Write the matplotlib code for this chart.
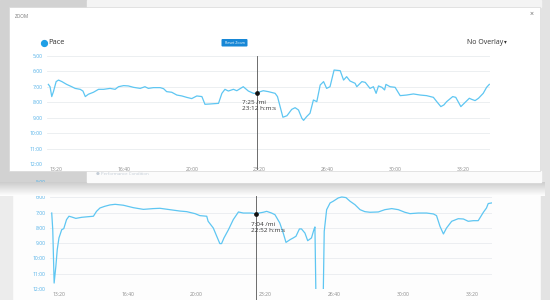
import numpy as np
import matplotlib
matplotlib.use("Agg")
import matplotlib.pyplot as plt
from matplotlib.patches import Rectangle, FancyBboxPatch
from matplotlib.ticker import FuncFormatter, MultipleLocator

plt.rcParams["font.family"] = ["Open Sans", "DejaVu Sans"]

# Zoomed pace chart (modal) -- elapsed seconds, pace in min/mi
zoom_time = [777, 782, 787, 792, 800, 807, 817, 831, 846, 856, 871, 879, 886, 895,
             910, 925, 940, 959, 974, 984, 999, 1013, 1028, 1048, 1062, 1072, 1087,
             1107, 1117, 1126, 1141, 1156, 1171, 1185, 1200, 1215, 1230, 1239, 1254,
             1279, 1289, 1298, 1308, 1323, 1333, 1352, 1367, 1382, 1392, 1397, 1411,
             1426, 1446, 1453, 1469, 1481, 1495, 1505, 1515, 1525, 1530, 1539, 1549,
             1559, 1569, 1579, 1589, 1598, 1608, 1620, 1638, 1648, 1657, 1667, 1682,
             1687, 1702, 1712, 1726, 1736, 1744, 1751, 1761, 1769, 1773, 1785, 1800,
             1815, 1834, 1854, 1874, 1893, 1913, 1923, 1935, 1944, 1952, 1970, 1979,
             1994, 2006, 2019, 2026, 2036, 2046, 2060, 2070, 2078]
zoom_pace = [6.84, 6.99, 7.63, 7.31, 6.66, 6.56, 6.66, 6.84, 6.99, 7.10, 7.16, 7.27,
             7.63, 7.48, 7.35, 7.16, 7.16, 7.10, 7.16, 6.99, 6.92, 6.94, 7.03, 7.10,
             6.99, 7.10, 7.05, 7.05, 7.12, 7.31, 7.35, 7.53, 7.59, 7.68, 7.76, 7.59,
             7.63, 8.13, 8.11, 8.07, 7.42, 7.16, 7.27, 7.16, 7.25, 6.99, 7.27, 7.42,
             7.42, 7.35, 7.25, 7.31, 7.42, 7.63, 8.97, 8.87, 8.46, 8.35, 8.50, 9.04,
             9.17, 8.93, 8.71, 7.85, 7.96, 6.88, 6.66, 7.10, 6.99, 5.91, 5.95, 6.56,
             6.34, 6.62, 6.77, 6.99, 6.66, 6.71, 7.10, 6.99, 7.42, 6.94, 7.03, 7.20,
             6.84, 6.99, 7.03, 7.57, 7.53, 7.46, 7.53, 7.57, 7.68, 7.96, 8.28, 8.17,
             7.96, 7.63, 7.68, 8.28, 8.02, 7.74, 7.81, 7.89, 7.74, 7.42, 7.03, 6.84]

# Full pace chart (background page)
full_time = [780, 783, 787, 792, 796, 801, 809, 815, 823, 830, 838, 850, 867, 886,
             901, 910, 920, 934, 949, 964, 988, 1017, 1046, 1075, 1094, 1123, 1152,
             1172, 1196, 1210, 1230, 1234, 1249, 1259, 1268, 1273, 1280, 1293, 1307,
             1322, 1336, 1360, 1372, 1394, 1404, 1418, 1428, 1442, 1452, 1460, 1472,
             1481, 1489, 1499, 1505, 1515, 1523, 1534, 1541, 1544, 1547, 1568, 1571,
             1578, 1588, 1597, 1612, 1622, 1634, 1646, 1660, 1675, 1689, 1704, 1728,
             1747, 1767, 1786, 1805, 1820, 1844, 1868, 1888, 1897, 1907, 1917, 1926,
             1941, 1960, 1975, 1989, 2004, 2018, 2033, 2042, 2047, 2057]
full_pace = [7.03, 8.12, 11.61, 10.52, 9.43, 8.66, 8.12, 8.05, 7.46, 7.24, 7.29, 7.38,
             7.31, 7.27, 7.24, 6.92, 6.70, 6.59, 6.50, 6.46, 6.52, 6.68, 6.79, 6.74,
             6.72, 6.81, 6.90, 6.94, 7.07, 7.20, 7.24, 7.57, 8.01, 8.55, 9.03, 9.03,
             8.66, 8.12, 7.46, 6.96, 7.03, 7.03, 7.07, 6.98, 6.92, 7.03, 7.14, 7.68,
             8.34, 8.95, 8.77, 8.66, 8.55, 8.07, 8.07, 8.34, 8.84, 8.66, 8.12, 7.94,
             12.6, 12.6, 8.23, 6.81, 6.37, 6.26, 6.04, 5.98, 6.02, 6.26, 6.48, 6.81,
             6.94, 6.98, 6.96, 6.81, 6.74, 6.81, 6.98, 7.07, 7.03, 7.03, 7.09, 7.20,
             7.90, 8.40, 8.01, 7.57, 7.40, 7.42, 7.57, 7.53, 7.53, 6.98, 6.70, 6.41, 6.37]

zoom_cursor = (1392, 7 + 25 / 60)
full_cursor = (1372, 7 + 4 / 60)

W, H = 550, 300
LINE = "#5ec6f2"
YLAB = "#4fb0e8"
XLAB = "#8a8a8a"
GRID = "#e9ecef"


def rect(x0, y0, x1, y1):
    return [x0 / W, 1 - y1 / H, (x1 - x0) / W, (y1 - y0) / H]


def pace_fmt(v, pos):
    m = int(v)
    s = int(round((v - m) * 60))
    return f"{m}:{s:02d}"


def time_fmt(v, pos):
    v = int(round(v))
    return f"{v // 60}:{v % 60:02d}"


def style_chart(ax, xlim):
    ax.set_xlim(*xlim)
    ax.set_ylim(12, 5)
    ax.yaxis.set_major_locator(MultipleLocator(1))
    ax.xaxis.set_major_locator(MultipleLocator(200))
    ax.xaxis.set_major_formatter(FuncFormatter(time_fmt))
    ax.yaxis.set_major_formatter(FuncFormatter(pace_fmt))
    ax.grid(axis="y", color=GRID, lw=0.6)
    for s in ax.spines.values():
        s.set_visible(False)
    ax.tick_params(length=0, labelsize=3.6, pad=2.5)
    ax.tick_params(axis="y", colors=YLAB, pad=3)
    ax.tick_params(axis="x", colors=XLAB)
    ax.set_facecolor("none")


fig = plt.figure(figsize=(5.5, 3), dpi=100)
fig.patch.set_facecolor("white")

# page background
bg = fig.add_axes([0, 0, 1, 1], zorder=0)
bg.set_xlim(0, W)
bg.set_ylim(H, 0)
bg.axis("off")
bg.add_patch(Rectangle((0, 0), W, H, color="#fdfdfd"))
bg.add_patch(Rectangle((0, 0), 87, 183, color="#d2d2d2"))
bg.add_patch(Rectangle((0, 183), 12, 117, color="#ececec"))
bg.add_patch(Rectangle((541, 0), 9, H, color="#e3e3e3"))
bg.add_patch(Rectangle((87, 0), 454, 7, color="#f4f4f4"))

# background full chart
ax2 = fig.add_axes(rect(50, 182, 492, 289), zorder=1)
ax2.plot(full_time, full_pace, color=LINE, lw=0.9, solid_joinstyle="round")
style_chart(ax2, (775, 2058))
ax2.axvline(full_cursor[0], ymin=-0.2, ymax=1, color="#555555", lw=0.6, clip_on=False)
ax2.plot(*full_cursor, "o", color="#111111", ms=2.4)
ax2.text(full_cursor[0] - 13, full_cursor[1] + 0.55, "7:04 /mi\n22:52 h:m:s",
         fontsize=4.6, color="#333333", va="top", linespacing=1.25)

# modal overlay
ov = fig.add_axes([0, 0, 1, 1], zorder=2)
ov.set_xlim(0, W)
ov.set_ylim(H, 0)
ov.axis("off")
ov.patch.set_alpha(0)
grad = np.linspace(0.80, 1.0, 50).reshape(-1, 1)
ov.imshow(np.dstack([grad, grad, grad]), extent=(0, 545, 196, 182), aspect="auto",
          interpolation="bilinear", zorder=1)
ov.add_patch(Rectangle((87, 171), 454, 11, color="#fbfbfb", zorder=1))
ov.text(96, 174, "\u25cf Performance Condition", fontsize=3.2, color="#c3ccd6",
        va="center", zorder=2)
ov.add_patch(Rectangle((9, 7), 531, 164, facecolor="white", edgecolor="#d8d8d8",
                       lw=0.5, zorder=3))
ov.text(15, 16, "ZOOM", fontsize=3.4, color="#777777", va="center", zorder=4)
ov.text(532, 14, "\u00d7", fontsize=5, color="#666666", ha="center", va="center", zorder=4)
ov.plot([43.5], [43], "o", color="#1f9fe6", ms=4.2, zorder=4)
ov.text(48, 43, "Pace", fontsize=5.4, color="#333333", va="center", zorder=4)
ov.add_patch(FancyBboxPatch((221.5, 39), 26, 7.5, boxstyle="round,pad=0,rounding_size=1",
                            facecolor="#1787d6", edgecolor="none", zorder=4))
ov.text(234.5, 42.8, "Reset Zoom", fontsize=2.6, color="white", ha="center",
        va="center", zorder=5)
ov.text(503, 43, "No Overlay", fontsize=5.0, color="#333333", ha="right",
        va="center", zorder=4)
ov.text(503.5, 42, "\u25be", fontsize=4.0, color="#333333", va="center", zorder=4)

# zoomed chart inside modal
ax1 = fig.add_axes(rect(47, 56, 490, 164), zorder=3)
ax1.plot(zoom_time, zoom_pace, color=LINE, lw=0.9, solid_joinstyle="round")
style_chart(ax1, (773, 2080))
ax1.axvline(zoom_cursor[0], ymin=-0.05, ymax=1, color="#555555", lw=0.6, clip_on=False)
ax1.plot(*zoom_cursor, "o", color="#111111", ms=2.4)
ax1.text(zoom_cursor[0] - 44, zoom_cursor[1] + 0.45, "7:25 /mi\n23:12 h:m:s",
         fontsize=4.6, color="#333333", va="top", linespacing=1.25)

fig.savefig("out.png", dpi=100)
